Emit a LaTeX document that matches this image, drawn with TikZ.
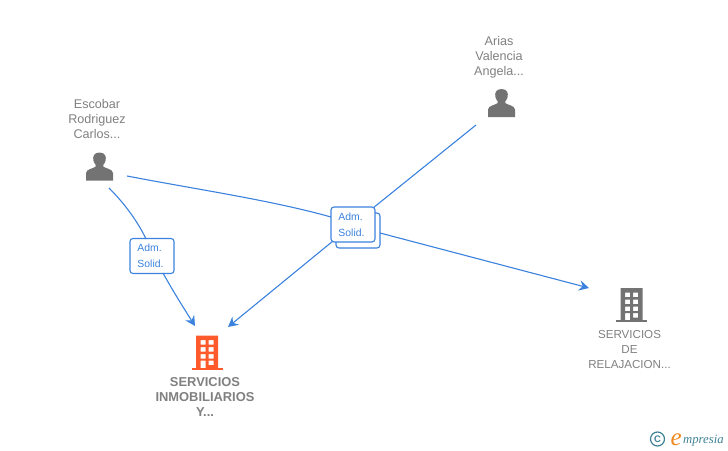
\documentclass[tikz,border=0pt]{standalone}
\usepackage{fontspec}
\setmainfont{Liberation Sans}
\newfontfamily\logofont{Liberation Serif}
\usetikzlibrary{arrows.meta}
\definecolor{linkblue}{HTML}{3B82DE}
\definecolor{labelgrey}{HTML}{808080}
\definecolor{icongrey}{HTML}{737373}
\definecolor{buildorange}{HTML}{FF5A2B}
\definecolor{logoteal}{HTML}{3F8296}
\definecolor{logoorange}{HTML}{F08A1D}
\tikzset{
  x=1pt,y=-1pt,
  caption/.style={align=center,text=labelgrey,font=\fontsize{12.6}{15}\selectfont,inner sep=0pt},
  boldcaption/.style={caption,font=\fontsize{12.9}{15}\selectfont\bfseries},
  link/.style={draw=linkblue,line width=1.1pt},
  arrowlink/.style={link,-{Stealth[length=10pt,width=10.5pt,inset=3.5pt]}},
  rolebox/.style={draw=linkblue,line width=1.1pt,fill=white,rounded corners=3pt,minimum width=44pt,minimum height=35pt,inner sep=0pt,align=left,text=linkblue,font=\fontsize{10.4}{16}\selectfont},
  person/.pic={
    \fill[icongrey] (0,-14.5) .. controls (-5.5,-14.5) and (-7,-10.5) .. (-6.1,-6.5)
      .. controls (-5.7,-4.5) and (-4.6,-3.2) .. (-3.8,-2.2) -- (-3.8,-0.4)
      .. controls (-7,1.8) and (-13,2) .. (-13.5,6) -- (-13.5,13.5) -- (13.5,13.5) -- (13.5,6)
      .. controls (13,2) and (7,1.8) .. (3.8,-0.4) -- (3.8,-2.2)
      .. controls (4.6,-3.2) and (5.7,-4.5) .. (6.1,-6.5)
      .. controls (7,-10.5) and (5.5,-14.5) .. (0,-14.5) -- cycle;
  },
  pics/building/.style={code={
    \fill[#1] (-15.5,15) rectangle (15.5,17);
    \fill[#1,even odd rule] (-11,-17) rectangle (11,15.5)
      (-6.5,-12.5) rectangle (-1.5,-8) (1.5,-12.5) rectangle (6.5,-8)
      (-6.5,-5.5) rectangle (-1.5,-1) (1.5,-5.5) rectangle (6.5,-1)
      (-6.5,1.5) rectangle (-1.5,6) (1.5,1.5) rectangle (6.5,6)
      (-6.5,8) rectangle (-1.5,15.5) (1.5,8) rectangle (6.5,12.5);
  }}
}
\begin{document}
\begin{tikzpicture}
\useasboundingbox (0,0) rectangle (728,450);
% captions
\node[caption] (escobar) at (97,119) {Escobar\\Rodriguez\\Carlos...};
\node[caption] (arias) at (499,57) {Arias\\Valencia\\Angela...};
\node[boldcaption] (inmo) at (205,397) {SERVICIOS\\INMOBILIARIOS\\Y...};
\node[caption,font=\fontsize{11.6}{15}\selectfont] (relaj) at (629.5,350) {SERVICIOS\\DE\\RELAJACION...};
% icons
\pic at (99.5,167) {person};
\pic at (501.5,103.5) {person};
\pic at (207,352.5) {building=buildorange};
\pic at (631.5,305) {building=icongrey};
% free connector ends
\coordinate (escA) at (109,188);
\coordinate (escB) at (127,176);
\coordinate (ariasEnd) at (476,125);
\coordinate (inmoA) at (195,326);
\coordinate (inmoB) at (228,327);
\coordinate (relajEnd) at (589,288);
\coordinate (leftIn) at (146,239);
\coordinate (leftOut) at (163,273);
\coordinate (mainIn) at (331,217);
\coordinate (mainTop) at (373,208);
\coordinate (mainLow) at (333,241);
\coordinate (backOut) at (380,233);
% role boxes
\node[rolebox] (roleback) at (358,230.5) {};
\node[rolebox] (rolemain) at (353,224.5) {Adm.\\Solid.\hspace*{3pt}};
\node[rolebox] (roleleft) at (152,256) {Adm.\\Solid.\hspace*{3pt}};
% connectors
\draw[link] (escA) .. controls (125,204) and (138,222) .. (leftIn);
\draw[arrowlink] (leftOut) .. controls (174,293) and (185,310) .. (inmoA);
\draw[link] (escB) .. controls (200,190) and (270,200) .. (mainIn);
\draw[arrowlink] (backOut) -- (relajEnd);
\draw[link] (ariasEnd) -- (mainTop);
\draw[arrowlink] (mainLow) -- (inmoB);
% logo
\node[draw=logoteal,circle,line width=1.2pt,minimum size=14pt,inner sep=0pt,text=logoteal,font=\fontsize{9.5}{9.5}\selectfont\bfseries] (copy) at (657.5,439) {C};
\node[inner sep=0pt,anchor=base west,font=\logofont\itshape\fontsize{25}{25}\selectfont,text=logoorange] (logoe) at (670.5,445.5) {e};
\node[inner sep=0pt,anchor=base west,font=\logofont\itshape\fontsize{12.7}{14}\selectfont,text=logoteal] (logot) at (683,443) {mpresia};
\end{tikzpicture}
\end{document}
